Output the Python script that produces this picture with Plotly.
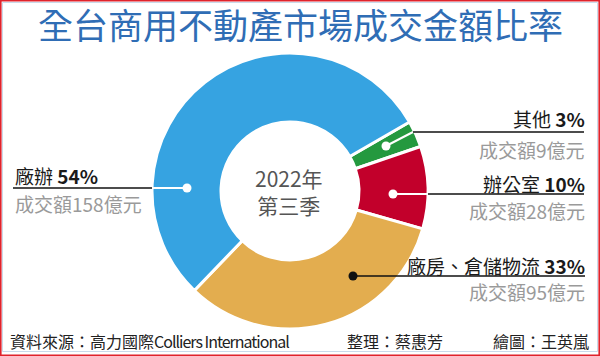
import plotly.graph_objects as go

# ---- data ----
categories = ["其他", "辦公室", "廠房、倉儲物流", "廠辦"]
amounts = [9, 28, 95, 158]          # 成交額（億元）
percents = [3, 10, 33, 54]          # 比率 %
slice_colors = ["#24993f", "#c2002b", "#e3ad4f", "#36a3e1"]

title_text = "全台商用不動產市場成交金額比率"
center_text = ["2022年", "第三季"]
source_cjk = "資料來源：高力國際"
source_latin = "Colliers International"
editor_text = "整理：蔡惠芳"
artist_text = "繪圖：王英嵐"

W, H = 600, 356
FONT = "Noto Sans CJK TC"


def px(x):
    return x / W


def py(y):
    return 1 - y / H


fig = go.Figure()
fig.add_trace(go.Pie(
    labels=categories,
    values=amounts,
    sort=False,
    direction="clockwise",
    rotation=60,
    hole=0.5,
    marker=dict(colors=slice_colors, line=dict(color="white", width=3)),
    textinfo="none",
    hoverinfo="skip",
    showlegend=False,
    domain=dict(x=[px(152), px(428)], y=[py(329), py(53)]),
))

shapes = []
annotations = []

# borders
shapes.append(dict(type="rect", xref="paper", yref="paper",
                   x0=px(0.8), x1=px(599.2), y0=py(355.2), y1=py(0.8),
                   line=dict(color="#e0232c", width=1.6)))
shapes.append(dict(type="rect", xref="paper", yref="paper",
                   x0=px(2.5), x1=px(597.5), y0=py(351.5), y1=py(2.5),
                   line=dict(color="#c9daea", width=1)))

# title
annotations.append(dict(text=title_text, x=px(300), y=py(24), xref="paper", yref="paper",
                        xanchor="center", yanchor="middle", showarrow=False,
                        font=dict(family=FONT, size=35, color="#2f6db5")))

# center text
annotations.append(dict(text=center_text[0] + "<br>" + center_text[1], x=px(289), y=py(191),
                        xref="paper", yref="paper", xanchor="center", yanchor="middle",
                        showarrow=False, font=dict(family=FONT, size=21, color="#555555")))

label_layout = {
    "其他": dict(ty=118, ly=132, ay=149, tx=587, xa="right", dot=(386, 146), bend=(413, 132),
               rx=(413, 584), dc="white"),
    "辦公室": dict(ty=183, ly=194, ay=210, tx=587, xa="right", dot=(393, 194), bend=(428, 194),
                rx=(428, 584), dc="white"),
    "廠房、倉儲物流": dict(ty=265, ly=276, ay=291, tx=587, xa="right", dot=(353, 276), bend=None,
                    rx=(353, 585), dc="#111111"),
    "廠辦": dict(ty=175, ly=188, ay=203, tx=13, xa="left", dot=(187, 188), bend=(152, 188),
               rx=(13, 152), dc="white"),
}

for cat, amt, pct in zip(categories, amounts, percents):
    L = label_layout[cat]
    annotations.append(dict(text=f"{cat} <b>{pct}%</b>", x=px(L["tx"]), y=py(L["ty"]),
                            xref="paper", yref="paper", xanchor=L["xa"], yanchor="middle",
                            showarrow=False, font=dict(family=FONT, size=19, color="#1a1a1a")))
    annotations.append(dict(text=f"成交額{amt}億元", x=px(L["tx"]), y=py(L["ay"]),
                            xref="paper", yref="paper", xanchor=L["xa"], yanchor="middle",
                            showarrow=False, font=dict(family=FONT, size=19, color="#9a9a9a")))
    dx, dy = L["dot"]
    if L["bend"] is not None:
        bx, by = L["bend"]
        shapes.append(dict(type="line", xref="paper", yref="paper",
                           x0=px(dx), y0=py(dy), x1=px(bx), y1=py(by),
                           line=dict(color="white", width=2)))
    shapes.append(dict(type="line", xref="paper", yref="paper",
                       x0=px(L["rx"][0]), y0=py(L["ly"]), x1=px(L["rx"][1]), y1=py(L["ly"]),
                       line=dict(color="#111111", width=1.6)))
    r = 4.5
    shapes.append(dict(type="circle", xref="paper", yref="paper",
                       x0=px(dx - r), x1=px(dx + r), y0=py(dy + r), y1=py(dy - r),
                       fillcolor=L["dc"], line=dict(width=0)))

# footer
source_html = f'{source_cjk}<span style="letter-spacing:-1px">{source_latin}</span>'
for txt, x, xa in [(source_html, 8, "left"), (editor_text, 395, "center"), (artist_text, 591, "right")]:
    annotations.append(dict(text=txt, x=px(x), y=py(341), xref="paper", yref="paper",
                            xanchor=xa, yanchor="middle", showarrow=False,
                            font=dict(family=FONT, size=16, color="#222222")))

fig.update_layout(
    width=W, height=H,
    margin=dict(l=0, r=0, t=0, b=0),
    paper_bgcolor="white", plot_bgcolor="white",
    shapes=shapes, annotations=annotations,
)

fig.write_html("out.html", config={"displayModeBar": False},
               post_script="document.body.style.margin='0';")
